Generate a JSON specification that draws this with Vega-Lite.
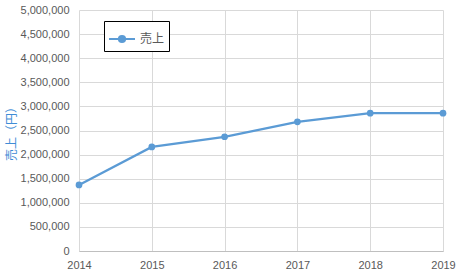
{
  "$schema": "https://vega.github.io/schema/vega-lite/v6.json",
  "width": 364,
  "height": 241,
  "autosize": {"type": "none"},
  "padding": {"left": 79, "top": 10, "right": 26, "bottom": 23},
  "background": "white",
  "config": {
    "view": {"stroke": null},
    "font": "Liberation Sans"
  },
  "data": {
    "values": [
      {"year": "2014", "sales": 1370000, "series": "売上"},
      {"year": "2015", "sales": 2160000, "series": "売上"},
      {"year": "2016", "sales": 2370000, "series": "売上"},
      {"year": "2017", "sales": 2680000, "series": "売上"},
      {"year": "2018", "sales": 2860000, "series": "売上"},
      {"year": "2019", "sales": 2860000, "series": "売上"}
    ]
  },
  "mark": {
    "type": "line",
    "strokeWidth": 2.25,
    "point": {"filled": true, "size": 45}
  },
  "encoding": {
    "x": {
      "field": "year",
      "type": "ordinal",
      "scale": {"type": "point", "padding": 0},
      "axis": {
        "title": null,
        "labelAngle": 0,
        "labelFontSize": 11,
        "labelColor": "#595959",
        "labelPadding": 8,
        "ticks": false,
        "grid": true,
        "gridColor": "#d9d9d9",
        "domainColor": "#bfbfbf",
        "domainWidth": 1
      }
    },
    "y": {
      "field": "sales",
      "type": "quantitative",
      "scale": {"domain": [0, 5000000], "nice": false},
      "axis": {
        "title": "売上（円）",
        "titleFont": "Noto Sans CJK JP",
        "titleFontWeight": "normal",
        "titleFontSize": 12,
        "titleColor": "#3F8DD6",
        "titlePadding": 2,
        "values": [0, 500000, 1000000, 1500000, 2000000, 2500000, 3000000, 3500000, 4000000, 4500000, 5000000],
        "format": ",d",
        "labelFontSize": 11,
        "labelColor": "#595959",
        "labelPadding": 10,
        "ticks": false,
        "domain": false,
        "grid": true,
        "gridColor": "#d9d9d9"
      }
    },
    "color": {
      "field": "series",
      "type": "nominal",
      "scale": {"range": ["#5B9BD5"]},
      "legend": {
        "title": null,
        "orient": "none",
        "legendX": 25,
        "legendY": 11,
        "strokeColor": "black",
        "fillColor": "white",
        "padding": 4,
        "labelFont": "Noto Sans CJK JP",
        "labelFontSize": 12,
        "labelColor": "#595959",
        "symbolType": "M-1,0L1,0M-0.24,0A0.24,0.24,0,1,1,0.24,0A0.24,0.24,0,1,1,-0.24,0Z",
        "symbolSize": 676,
        "symbolStrokeWidth": 2,
        "symbolFillColor": "#5B9BD5",
        "symbolStrokeColor": "#5B9BD5",
        "symbolOpacity": 1
      }
    }
  }
}
